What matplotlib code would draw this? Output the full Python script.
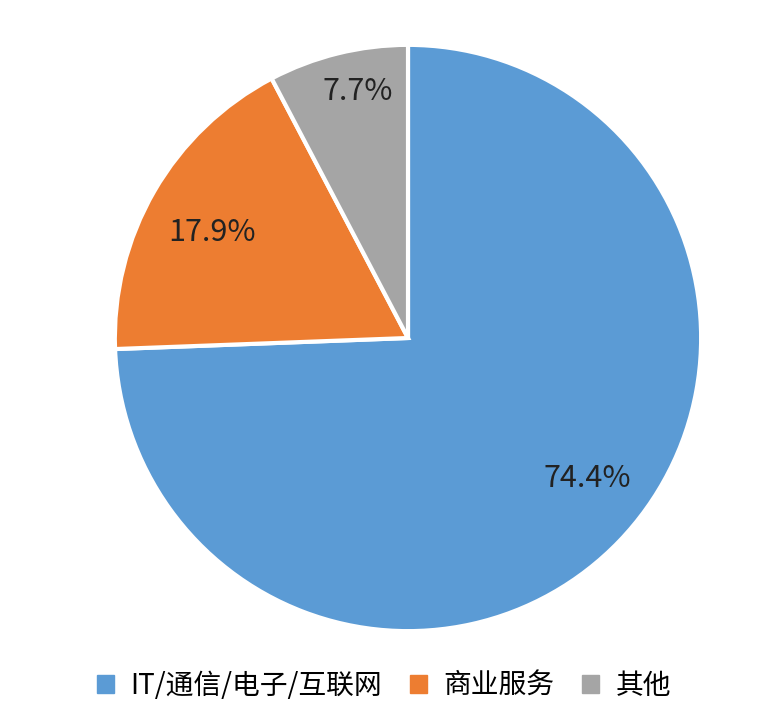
import matplotlib
matplotlib.use("Agg")
import matplotlib.pyplot as plt
from matplotlib.patches import Patch

plt.rcParams['font.family'] = ['Noto Sans CJK SC', 'DejaVu Sans']

categories = ["IT/通信/电子/互联网", "商业服务", "其他"]
values = [74.4, 17.9, 7.7]
colors = ["#5B9BD5", "#ED7D31", "#A5A5A5"]

fig = plt.figure(figsize=(7.68, 7.22), dpi=100)
ax = fig.add_axes([109 / 768, 85 / 722, 598 / 768, 598 / 722])
wedges, texts = ax.pie(values, colors=colors, startangle=90, counterclock=False,
                       wedgeprops=dict(edgecolor="white", linewidth=3))
ax.set_xlim(-1.02, 1.02)
ax.set_ylim(-1.02, 1.02)
ax.set_aspect("equal")

label_pos = [(0.61, -0.48), (-0.67, 0.36), (-0.17, 0.84)]
for (x, y), v in zip(label_pos, values):
    ax.text(x, y, f"{v}%", ha="center", va="center", fontsize=22, color="#222222")

handles = [Patch(color=c) for c in colors]
fig.legend(handles, categories, loc="lower center", ncol=3, frameon=False,
           fontsize=20, handlelength=0.6, handleheight=0.6, columnspacing=1.0,
           handletextpad=0.6, bbox_to_anchor=(0.5, -0.005))

fig.savefig("out.png", dpi=100)
